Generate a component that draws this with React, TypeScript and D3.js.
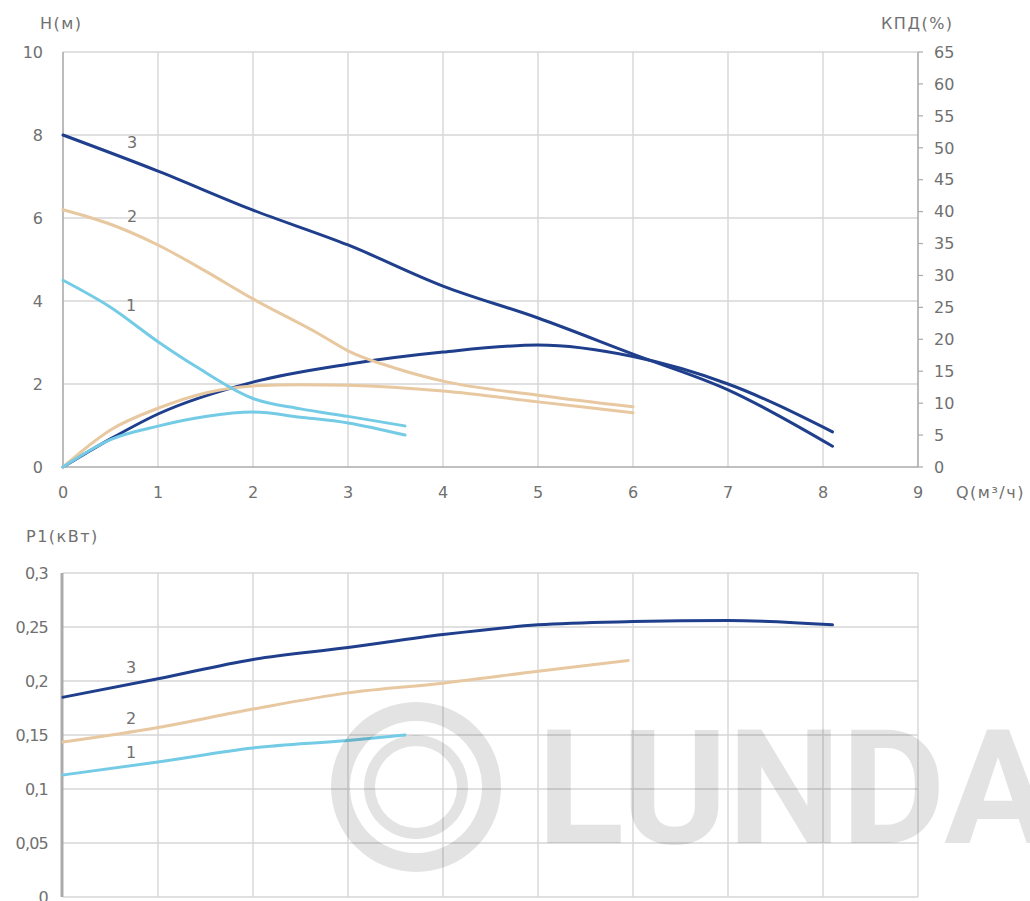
import * as d3 from 'd3'

// flow Q (m3/h) and head H (m)
const h3Q = [0, 1, 2, 3, 4, 5, 6, 7, 8.1]
const h3 = [8.0, 7.13, 6.19, 5.35, 4.36, 3.59, 2.72, 1.86, 0.5]
const h2Q = [0, 0.5, 1, 1.5, 2, 2.7, 3, 3.5, 4, 5, 6]
const h2 = [6.2, 5.85, 5.35, 4.72, 4.05, 3.2, 2.8, 2.38, 2.07, 1.73, 1.45]
const h1Q = [0, 0.5, 1, 1.4, 2, 2.5, 3, 3.6]
const h1 = [4.5, 3.85, 3.02, 2.42, 1.65, 1.4, 1.22, 0.99]

// efficiency КПД (%)
const eff3Q = [0, 0.5, 1, 2, 3, 4, 5, 6, 7, 8.1]
const eff3 = [0, 4.4, 8.3, 13.3, 16.1, 18.0, 19.1, 17.3, 13.0, 5.5]
const eff2Q = [0, 0.5, 1, 1.5, 2, 2.5, 3, 4, 5, 6]
const eff2 = [0, 5.8, 9.2, 11.6, 12.7, 12.9, 12.8, 11.9, 10.2, 8.5]
const eff1Q = [0, 0.5, 1, 1.5, 2, 2.5, 3, 3.6]
const eff1 = [0, 4.3, 6.4, 7.9, 8.6, 7.8, 6.9, 5.0]

// power P1 (kW)
const p3Q = [0, 1, 2, 3, 4, 5, 6, 7, 8.1]
const p3 = [0.185, 0.202, 0.22, 0.231, 0.243, 0.252, 0.255, 0.256, 0.252]
const p2Q = [0, 1, 2, 3, 4, 5, 5.95]
const p2 = [0.1435, 0.157, 0.174, 0.189, 0.198, 0.209, 0.219]
const p1Q = [0, 1, 2, 3, 3.6]
const p1 = [0.113, 0.125, 0.138, 0.145, 0.15]

const qTicks = [0, 1, 2, 3, 4, 5, 6, 7, 8, 9]
const hTicks = [0, 2, 4, 6, 8, 10]
const effTicks = d3.range(0, 66, 5)
const pTicks = [0, 0.05, 0.1, 0.15, 0.2, 0.25, 0.3]
const pLabels = ['0', '0,05', '0,1', '0,15', '0,2', '0,25', '0,3']

const DARK = '#1f3f8c'
const TAN = '#e8c8a0'
const LIGHT = '#74cbe5'
const GRID = '#d6d6d6'
const AXIS = '#ababab'
const TXT = '#707070'
const FONT = '"DejaVu Sans", "Noto Sans", sans-serif'

const x = d3.scaleLinear().domain([0, 9]).range([63, 918])
const yH = d3.scaleLinear().domain([0, 10]).range([467, 52])
const yK = d3.scaleLinear().domain([0, 65]).range([467, 52])
const yP = d3.scaleLinear().domain([0, 0.3]).range([897, 573])

function path(qs: number[], vs: number[], y: d3.ScaleLinear<number, number>) {
  const line = d3
    .line<number>()
    .x((_, i) => x(qs[i]))
    .y(v => y(v))
    .curve(d3.curveMonotoneX)
  return line(vs) || ''
}

export default function App() {
  const topSeries = [
    { q: h3Q, v: h3, y: yH, c: DARK },
    { q: eff3Q, v: eff3, y: yK, c: DARK },
    { q: h2Q, v: h2, y: yH, c: TAN },
    { q: eff2Q, v: eff2, y: yK, c: TAN },
    { q: h1Q, v: h1, y: yH, c: LIGHT },
    { q: eff1Q, v: eff1, y: yK, c: LIGHT },
  ]
  const botSeries = [
    { q: p3Q, v: p3, c: DARK },
    { q: p2Q, v: p2, c: TAN },
    { q: p1Q, v: p1, c: LIGHT },
  ]
  const txt = { fontFamily: FONT, fontSize: 16, fill: TXT }
  const ttl = { ...txt, letterSpacing: 1.5 }

  return (
    <svg width={1030} height={901} style={{ position: 'absolute', left: 0, top: 0 }}>
      <rect width={1030} height={901} fill="#fff" />

      {/* top chart grid */}
      {qTicks.slice(1, -1).map(q => (
        <line key={'tv' + q} x1={x(q)} x2={x(q)} y1={yH(10)} y2={yH(0)} stroke={GRID} strokeWidth={1.4} />
      ))}
      {hTicks.slice(1).map(h => (
        <line key={'th' + h} x1={x(0)} x2={x(9)} y1={yH(h)} y2={yH(h)} stroke={GRID} strokeWidth={1.4} />
      ))}
      <line x1={x(0)} x2={x(0)} y1={yH(10)} y2={yH(0)} stroke={AXIS} strokeWidth={1.6} />
      <line x1={x(0)} x2={x(9)} y1={yH(0)} y2={yH(0)} stroke={AXIS} strokeWidth={1.6} />
      <line x1={x(9)} x2={x(9)} y1={yK(65)} y2={yK(0)} stroke={AXIS} strokeWidth={1.6} />
      {effTicks.map(k => (
        <g key={'ek' + k}>
          <line x1={x(9)} x2={x(9) + 5} y1={yK(k)} y2={yK(k)} stroke={AXIS} strokeWidth={1.2} />
          <text {...txt} x={934} y={yK(k)} dy="0.36em">{k}</text>
        </g>
      ))}
      {hTicks.map(h => (
        <text key={'hl' + h} {...txt} x={43} y={yH(h)} dy="0.36em" textAnchor="end">{h}</text>
      ))}
      {qTicks.map(q => (
        <text key={'ql' + q} {...txt} x={x(q)} y={498} textAnchor="middle">{q}</text>
      ))}
      <text {...ttl} x={40} y={29}>H(м)</text>
      <text {...ttl} x={881} y={29}>КПД(%)</text>
      <text {...ttl} x={956} y={498}>Q(м³/ч)</text>

      {topSeries.map((s, i) => (
        <path key={'ts' + i} d={path(s.q, s.v, s.y)} fill="none" stroke={s.c} strokeWidth={3} strokeLinecap="round" />
      ))}
      <text {...txt} x={132} y={148} textAnchor="middle">3</text>
      <text {...txt} x={132} y={222} textAnchor="middle">2</text>
      <text {...txt} x={131} y={311} textAnchor="middle">1</text>

      {/* bottom chart */}
      <text {...ttl} x={26} y={542}>P1(кВт)</text>
      {qTicks.slice(1).map(q => (
        <line key={'bv' + q} x1={x(q)} x2={x(q)} y1={yP(0.3)} y2={yP(0)} stroke={GRID} strokeWidth={1.4} />
      ))}
      {pTicks.map(p => (
        <line key={'bh' + p} x1={x(0)} x2={x(9)} y1={yP(p)} y2={yP(p)} stroke={GRID} strokeWidth={1.4} />
      ))}
      <line x1={x(0) - 1} x2={x(0) - 1} y1={yP(0.3)} y2={yP(0)} stroke={AXIS} strokeWidth={3} />
      {pTicks.map((p, i) => (
        <text key={'pl' + p} {...txt} x={48} y={yP(p)} dy="0.36em" textAnchor="end" letterSpacing={-0.8}>{pLabels[i]}</text>
      ))}
      {botSeries.map((s, i) => (
        <path key={'bs' + i} d={path(s.q, s.v, yP)} fill="none" stroke={s.c} strokeWidth={3} strokeLinecap="round" />
      ))}
      <text {...txt} x={131} y={673} textAnchor="middle">3</text>
      <text {...txt} x={131} y={724} textAnchor="middle">2</text>
      <text {...txt} x={131} y={758} textAnchor="middle">1</text>

      {/* watermark */}
      <g fill="#000" fillOpacity={0.11}>
        <path
          fillRule="evenodd"
          d={`M ${416 - 85} 787 a 85 85 0 1 0 170 0 a 85 85 0 1 0 -170 0 Z M ${416 - 66} 787 a 66 66 0 1 1 132 0 a 66 66 0 1 1 -132 0 Z`}
        />
        <path
          fillRule="evenodd"
          d={`M ${416 - 52} 787 a 52 52 0 1 0 104 0 a 52 52 0 1 0 -104 0 Z M ${416 - 41} 787 a 41 41 0 1 1 82 0 a 41 41 0 1 1 -82 0 Z`}
        />
        <text
          x={537}
          y={843}
          fontFamily="Roboto, sans-serif"
          fontWeight={700}
          fontSize={160}
          textLength={515}
          lengthAdjust="spacingAndGlyphs"
        >
          LUNDA
        </text>
      </g>
    </svg>
  )
}
